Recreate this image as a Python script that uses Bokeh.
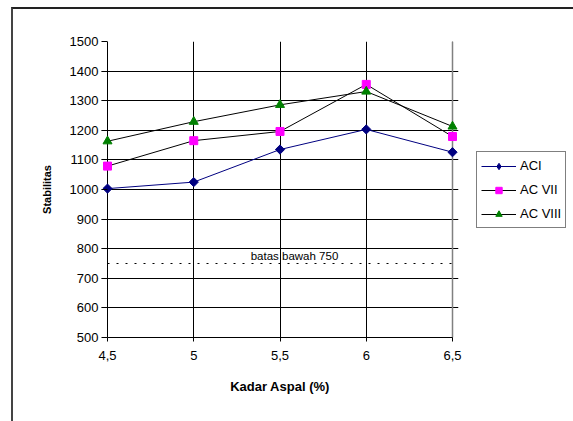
import math
from bokeh.plotting import figure
from bokeh.models import FixedTicker, Legend, LegendItem
from bokeh.core.properties import value
from bokeh.embed import file_html
from bokeh.resources import INLINE

# Asphalt content (%) and Marshall stability for each mix
kadar_aspal = [4.5, 5.0, 5.5, 6.0, 6.5]
aci = [1003, 1025, 1135, 1203, 1126]
ac_vii = [1079, 1165, 1196, 1355, 1179]
ac_viii = [1163, 1229, 1286, 1331, 1213]

# Lower limit line
batas_x = [4.5, 6.5]
batas_y = [750, 750]
batas_label = "batas bawah 750"

x_ticks = [4.5, 5.0, 5.5, 6.0, 6.5]
x_tick_labels = ["4,5", "5", "5,5", "6", "6,5"]
y_ticks = list(range(500, 1501, 100))

FONT = "Liberation Sans"

# a little horizontal room so end markers are not clipped by the frame
PX_PER_UNIT = 172.5
PAD = 6 / PX_PER_UNIT
x_lo, x_hi = x_ticks[0], x_ticks[-1]
y_lo, y_hi = y_ticks[0], y_ticks[-1]

p = figure(
    frame_width=357, frame_height=296,
    min_border_left=88, min_border_right=115,
    min_border_top=32, min_border_bottom=84,
    x_range=(x_lo - PAD, x_hi + PAD), y_range=(y_lo, y_hi),
    output_backend="svg", toolbar_location=None,
)
p.margin = (7, 0, 0, 11)
p.styles = {"border-top": "2px solid #222222", "border-left": "2px solid #444444"}

p.background_fill_color = "white"
p.border_fill_color = "white"
p.outline_line_color = None

# grid, limited to the plotted extent
p.xgrid.ticker = FixedTicker(ticks=x_ticks)
p.ygrid.ticker = FixedTicker(ticks=y_ticks)
p.xgrid.bounds = (y_lo, y_hi)
p.ygrid.bounds = (x_lo, x_hi)
for g in (p.xgrid, p.ygrid):
    g.grid_line_color = "black"
    g.grid_line_width = 1

# right edge of the plot area in grey
p.line([x_hi, x_hi], [y_lo, y_hi], line_color="#808080", line_width=1.5)

# axes
p.xaxis.ticker = FixedTicker(ticks=x_ticks)
p.xaxis.major_label_overrides = {t: l for t, l in zip(x_ticks, x_tick_labels)}
p.xaxis.bounds = (x_lo, x_hi)
p.yaxis.ticker = FixedTicker(ticks=y_ticks)
for ax in (p.xaxis, p.yaxis):
    ax.axis_line_color = "black"
    ax.axis_line_width = 1
    ax.major_tick_line_color = "black"
    ax.minor_tick_line_color = None
    ax.major_label_text_font = FONT
    ax.major_label_text_font_size = "13px"
    ax.major_label_text_color = "black"
    ax.axis_label_text_font = FONT
    ax.axis_label_text_font_style = "bold"
    ax.axis_label_text_color = "black"
p.xaxis.major_tick_out = 4
p.xaxis.major_tick_in = 0
# y axis sits at the padded frame edge: its ticks reach in to x = 4.5
p.yaxis.axis_line_color = None
p.yaxis.major_tick_out = 0
p.yaxis.major_tick_in = 6
p.xaxis.axis_label = "Kadar Aspal (%)"
p.yaxis.axis_label = "Stabilitas"
p.xaxis.axis_label_text_font_size = "13px"
p.yaxis.axis_label_text_font_size = "11px"
p.xaxis.major_label_standoff = 9
p.yaxis.major_label_standoff = 3
p.xaxis.axis_label_standoff = 16
p.yaxis.axis_label_standoff = 14

# lower limit
p.line(batas_x, batas_y, line_color="black", line_width=1.2, line_dash="2 7")
p.text(x=[5.33], y=[750], text=[batas_label], text_font=value(FONT),
       text_font_size="11.5px", text_baseline="bottom", text_align="left",
       text_color="black", y_offset=-2)

# series
l1 = p.line(kadar_aspal, aci, line_color="#000080", line_width=1)
p.scatter(kadar_aspal, aci, marker="square", angle=math.pi / 4, size=6.5,
          fill_color="#000080", line_color="#000080")
l2 = p.line(kadar_aspal, ac_vii, line_color="black", line_width=1)
m2 = p.scatter(kadar_aspal, ac_vii, marker="square", size=8,
               fill_color="#FF00FF", line_color="#FF00FF")
l3 = p.line(kadar_aspal, ac_viii, line_color="black", line_width=1)
m3 = p.scatter(kadar_aspal, ac_viii, marker="triangle", size=9,
               fill_color="#008000", line_color="#008000")

# legend swatch for the ACI diamond (legend glyphs are drawn unrotated);
# it holds no plottable point, only the style used by the legend
m1_key = p.scatter([float("nan")], [float("nan")], marker="diamond", size=11,
                   fill_color="#000080", line_color="#000080")

legend = Legend(
    items=[
        LegendItem(label="ACI", renderers=[l1, m1_key]),
        LegendItem(label="AC VII", renderers=[l2, m2]),
        LegendItem(label="AC VIII", renderers=[l3, m3]),
    ],
    location=(18, 109),
    border_line_color="black",
    border_line_width=1,
    background_fill_color="white",
    background_fill_alpha=1,
    label_text_font=FONT,
    label_text_font_size="13px",
    label_text_color="black",
    glyph_width=35,
    glyph_height=16,
    label_height=19,
    spacing=5,
    padding=4,
    margin=0,
    label_standoff=4,
)
p.add_layout(legend, "right")

open("out.html", "w").write(file_html(p, INLINE))
